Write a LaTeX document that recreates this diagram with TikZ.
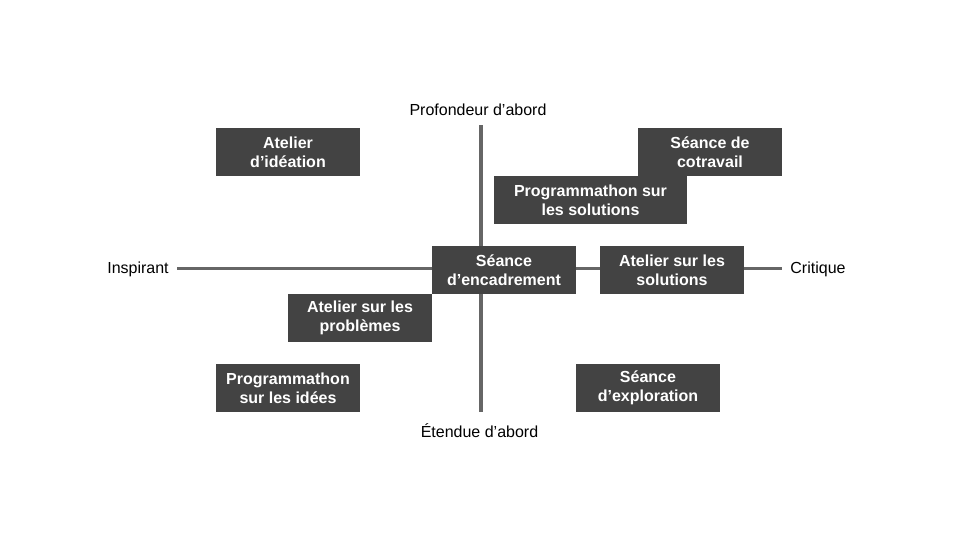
\documentclass[tikz,border=0pt]{standalone}
\usepackage{fontspec}
\setmainfont{Liberation Sans}
\definecolor{boxfill}{HTML}{434343}
\definecolor{axiscol}{HTML}{666666}
\begin{document}
\begin{tikzpicture}[x=0.75pt,y=-0.75pt,
  card/.style={fill=boxfill,text=white,font=\fontsize{12}{14.4}\selectfont\bfseries,
    align=center,inner sep=0pt,minimum width=108pt,minimum height=36pt},
  lbl/.style={text=black,font=\fontsize{12}{14.4}\selectfont,inner sep=0pt,anchor=base},
  axis/.style={draw=axiscol,line width=2.6pt}]
\useasboundingbox (0,0) rectangle (960,540);
% axis labels
\node[lbl] (top) at (478,115.5) {Profondeur d’abord};
\node[lbl] (bot) at (479.5,437) {Étendue d’abord};
\node[lbl] (left) at (138,273.5) {Inspirant};
\node[lbl] (right) at (818,273.5) {Critique};
% axes
\coordinate (hl) at (177,268.5);
\coordinate (hr) at (782,268.5);
\coordinate (vt) at (481,125);
\coordinate (vb) at (481,411.5);
\draw[axis] (hl) -- (hr);
\draw[axis] (vt) -- (vb);
% cards
\node[card] (ideation) at (288,152) {Atelier\\d’idéation};
\node[card] (cotravail) at (710,152) {Séance de\\cotravail};
\node[card,minimum width=144.75pt] (progsol) at (590.5,200) {Programmathon sur\\les solutions};
\node[card] (encadrement) at (504,270) {Séance\\d’encadrement};
\node[card] (atsol) at (672,270) {Atelier sur les\\solutions};
\node[card] (atprob) at (360,318) {Atelier sur les\\problèmes};
\node[card] (progid) at (288,388) {Programmathon\\sur les idées};
\node[card] (exploration) at (648,388) {Séance\\d’exploration};
\end{tikzpicture}
\end{document}
